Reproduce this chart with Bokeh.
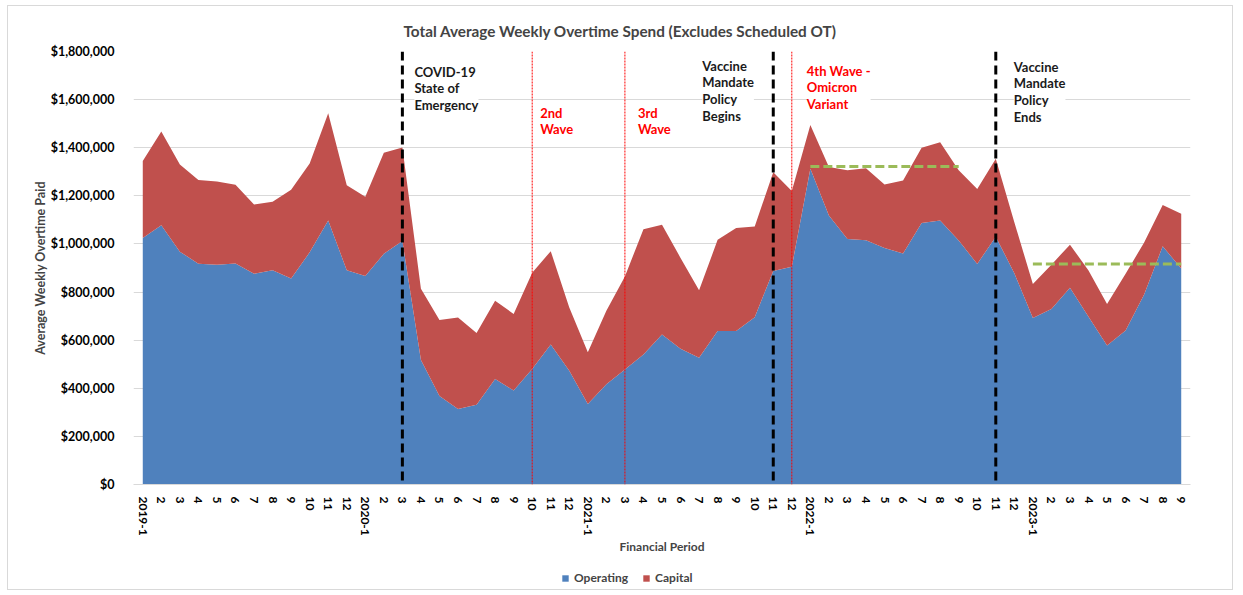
from bokeh.plotting import figure
from bokeh.layouts import column
from bokeh.models import (ColumnDataSource, FixedTicker, NumeralTickFormatter, Span,
                          Label, Legend, LegendItem, Title, Range1d)
from bokeh.embed import file_html
from bokeh.resources import INLINE

# ---------------- data ----------------
years = ["2019", "2020", "2021", "2022", "2023"]
periods_per_year = [12, 12, 12, 12, 9]
period_ids = [f"{y}-{p}" for y, n in zip(years, periods_per_year) for p in range(1, n + 1)]
tick_labels = [pid if pid.endswith("-1") else pid.split("-")[1] for pid in period_ids]

series_names = ["Operating", "Capital"]
operating = [
    1025000, 1078000, 968000, 918000, 914000, 919000, 876000, 891000, 856000, 965000, 1097000, 891000,
    867000, 959000, 1012000, 518000, 368000, 314000, 332000, 439000, 391000, 480000, 582000, 473000,
    335000, 417000, 478000, 540000, 624000, 564000, 527000, 638000, 638000, 695000, 888000, 905000,
    1313000, 1118000, 1021000, 1015000, 983000, 960000, 1087000, 1097000, 1014000, 917000, 1030000, 878000,
    692000, 730000, 818000, 697000, 578000, 640000, 790000, 990000, 898000,
]
capital = [
    320000, 389000, 362000, 348000, 346000, 327000, 288000, 284000, 369000, 369000, 446000, 353000,
    329000, 420000, 389000, 296000, 316000, 380000, 298000, 325000, 318000, 400000, 388000, 263000,
    215000, 305000, 387000, 521000, 456000, 378000, 280000, 379000, 428000, 378000, 410000, 315000,
    181000, 202000, 285000, 300000, 264000, 304000, 313000, 326000, 292000, 311000, 324000, 212000,
    142000, 184000, 179000, 193000, 172000, 236000, 216000, 172000, 228000,
]

# event marker lines
event_periods = ["2020-3", "2020-10", "2021-3", "2021-11", "2021-12", "2022-11"]
event_kinds = ["major", "wave", "wave", "major", "wave", "major"]

# annotation notes
note_texts = ["COVID-19\nState of\nEmergency", "2nd\nWave", "3rd\nWave",
              "Vaccine\nMandate\nPolicy\nBegins", "4th Wave -\nOmicron\nVariant",
              "Vaccine\nMandate\nPolicy\nEnds"]
note_anchor = ["2020-3", "2020-10", "2021-3", "2021-11", "2021-12", "2022-11"]
note_kinds = ["major", "wave", "wave", "major", "wave", "major"]

# average reference lines
avg_values = [1322000, 917000]
avg_start = ["2022-1", "2023-1"]
avg_end = ["2022-9", "2023-9"]

# ---------------- styles ----------------
BLUE = "#4F81BD"
RED = "#C0504D"
GREEN = "#9BBB59"
FONT = "Lato"
note_x_off = [12, 8, 13, -71, 15, 18]
note_y_off = [-12, -53, -53, -6, -11, -7]

idx = {pid: i for i, pid in enumerate(period_ids)}
x = list(range(len(period_ids)))
src = ColumnDataSource(dict(x=x, operating=operating, capital=capital))

p = figure(width=1224, height=558, output_backend="svg", toolbar_location=None,
           x_range=Range1d(-0.5, len(period_ids) - 0.5), y_range=Range1d(0, 1800000),
           min_border_left=125, min_border_right=42, min_border_top=45, min_border_bottom=80)
p.outline_line_color = None

areas = p.varea_stack(stackers=["operating", "capital"], x="x", color=[BLUE, RED], source=src)

for v, s, e in zip(avg_values, avg_start, avg_end):
    p.line(x=[idx[s], idx[e]], y=[v, v], line_color=GREEN, line_width=3, line_dash="9 4")

# notes (drawn before the lines so the lines stay visible)
for t, a, k, xo, yo in zip(note_texts, note_anchor, note_kinds, note_x_off, note_y_off):
    p.add_layout(Label(x=idx[a], y=1800000, x_offset=xo, y_offset=yo, text=t,
                       text_font=FONT, text_font_style="bold", text_font_size="13px",
                       text_color="#1a1a1a" if k == "major" else "#FF0000",
                       text_baseline="top", text_align="left", text_line_height=1.05,
                       background_fill_color="white", background_fill_alpha=1.0))

for e, k in zip(event_periods, event_kinds):
    if k == "major":
        p.add_layout(Span(location=idx[e], dimension="height", line_color="black",
                          line_width=3, line_dash="9 5"))
    else:
        p.add_layout(Span(location=idx[e], dimension="height", line_color="#FF0000",
                          line_width=1, line_dash="2 1"))

# axes
p.xaxis.ticker = FixedTicker(ticks=x)
p.xaxis.major_label_overrides = {i: lab for i, lab in enumerate(tick_labels)}
p.xaxis.major_label_orientation = "vertical"
p.xaxis.major_label_text_font = FONT
p.xaxis.major_label_text_font_style = "bold"
p.xaxis.major_label_text_font_size = "12px"
p.xaxis.major_label_text_color = "black"
p.xaxis.major_tick_line_color = None
p.xaxis.minor_tick_line_color = None
p.xaxis.axis_line_color = "#D9D9D9"
p.xaxis.major_label_standoff = 6
p.xaxis.axis_label = "Financial Period"
p.xaxis.axis_label_text_font = FONT
p.xaxis.axis_label_text_font_style = "bold"
p.xaxis.axis_label_text_font_size = "12px"
p.xaxis.axis_label_standoff = 0

p.yaxis.ticker = FixedTicker(ticks=list(range(0, 1800001, 200000)))
p.yaxis.formatter = NumeralTickFormatter(format="$0,0")
p.yaxis.major_label_text_font = FONT
p.yaxis.major_label_text_font_style = "bold"
p.yaxis.major_label_text_font_size = "12.5px"
p.yaxis.major_label_text_color = "black"
p.yaxis.major_tick_line_color = None
p.yaxis.minor_tick_line_color = None
p.yaxis.axis_line_color = None
p.yaxis.major_label_standoff = 13
p.yaxis.axis_label = "Average Weekly Overtime Paid"
p.yaxis.axis_label_text_font = FONT
p.yaxis.axis_label_text_font_style = "bold"
p.yaxis.axis_label_text_font_size = "12.5px"
p.yaxis.axis_label_standoff = 0

p.xgrid.grid_line_color = None
p.ygrid.grid_line_color = "#D9D9D9"
p.ygrid.grid_line_width = 1

title = Title(text="Total Average Weekly Overtime Spend (Excludes Scheduled OT)", align="left",
              offset=270, text_font=FONT, text_font_style="bold", text_font_size="15.3px",
              standoff=24)
p.add_layout(title, "above")

# ---- legend strip below the chart (key renderers share the data, view window is empty) ----
lg = figure(width=1224, height=25, output_backend="svg", toolbar_location=None,
            x_range=Range1d(-3, -2), y_range=Range1d(0, 1),
            min_border_left=0, min_border_right=0, min_border_top=0, min_border_bottom=0)
lg.axis.visible = False
lg.grid.visible = False
lg.outline_line_color = None
key_renderers = lg.varea_stack(stackers=["operating", "capital"], x="x", color=[BLUE, RED], source=src)
legend = Legend(items=[LegendItem(label=n, renderers=[r]) for n, r in zip(series_names, key_renderers)],
                orientation="horizontal", location=(428, 4), padding=2, margin=0,
                label_text_font=FONT, label_text_font_style="bold", label_text_font_size="12px",
                glyph_width=8, glyph_height=8, label_standoff=5, spacing=14,
                border_line_color=None, background_fill_alpha=0)
lg.add_layout(legend, "center")

layout = column(p, lg, spacing=0,
                styles={"border": "1px solid #D9D9D9", "margin-left": "7px", "margin-top": "5px"})

open("out.html", "w").write(file_html(layout, INLINE))
